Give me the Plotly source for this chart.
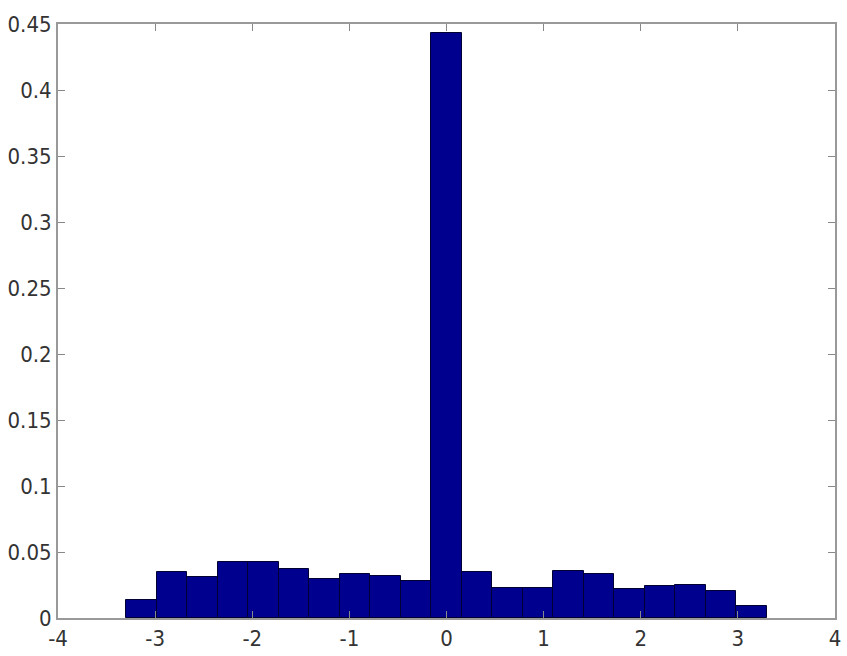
import math
import plotly.graph_objects as go

bin_index = list(range(-10, 11))
bin_width = math.pi / 10
bin_centers = [k * bin_width for k in bin_index]
frequencies = [0.0134, 0.0345, 0.0307, 0.0421, 0.0421, 0.0370, 0.0295, 0.0335, 0.0315, 0.0282,
               0.443,
               0.0345, 0.0227, 0.0227, 0.0357, 0.0335, 0.0219, 0.0244, 0.0252, 0.0201, 0.0088]

x_ticks = [-4, -3, -2, -1, 0, 1, 2, 3, 4]
y_ticks = [0, 0.05, 0.1, 0.15, 0.2, 0.25, 0.3, 0.35, 0.4, 0.45]
y_tick_labels = ["0", "0.05", "0.1", "0.15", "0.2", "0.25", "0.3", "0.35", "0.4", "0.45"]

fig = go.Figure(go.Bar(
    x=bin_centers, y=frequencies, width=bin_width,
    marker=dict(color="#00008F", line=dict(color="#000033", width=1)),
))

font = dict(family="DejaVu Sans Condensed, Liberation Sans Narrow, Liberation Sans, Arial", size=22, color="#333333")
fig.update_layout(
    width=847, height=656,
    margin=dict(l=58, r=12, t=24, b=38),
    paper_bgcolor="white", plot_bgcolor="white",
    showlegend=False, bargap=0,
    font=font,
)
fig.update_xaxes(range=[-4, 4], tickvals=x_ticks, ticktext=[str(v) for v in x_ticks],
                 ticks="inside", ticklen=7, tickcolor="#888888", mirror="ticks",
                 showline=True, linecolor="#999999", linewidth=2, showgrid=False, zeroline=False,
                 tickfont=font, ticklabelstandoff=0, automargin=False)
fig.update_yaxes(range=[0, 0.45], tickvals=y_ticks, ticktext=y_tick_labels,
                 ticks="inside", ticklen=7, tickcolor="#888888", mirror="ticks",
                 showline=True, linecolor="#999999", linewidth=2, showgrid=False, zeroline=False,
                 tickfont=font, ticklabelstandoff=0, automargin=False)
fig.write_html("out.html")
